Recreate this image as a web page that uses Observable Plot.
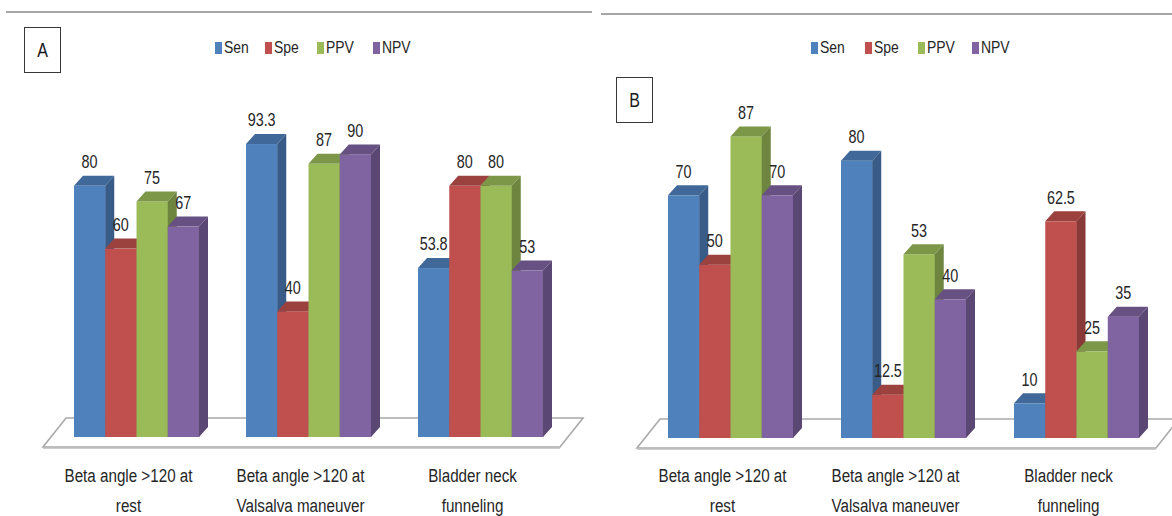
<!DOCTYPE html>
<html><head><meta charset="utf-8">
<script src="https://cdn.jsdelivr.net/npm/d3@7"></script>
<script src="https://cdn.jsdelivr.net/npm/@observablehq/plot@0.6"></script>
<style>
body{margin:0;background:#fff;}
#wrap{position:relative;width:1172px;height:516px;overflow:hidden;background:#fff;font-family:"Liberation Sans Narrow","Arial Narrow","Liberation Sans",sans-serif;}
.panel{position:absolute;top:0;height:516px;overflow:hidden;}
.panel svg{position:absolute;left:0;top:0;}
.topline{position:absolute;height:0;border-top:2px solid #a6a6a6;}
.box{position:absolute;border:1.6px solid #383838;box-sizing:border-box;display:flex;align-items:center;justify-content:center;font-size:20px;color:#1a1a1a;background:#fff;}
.box span{display:inline-block;transform:scaleX(0.8);}
.leg{position:absolute;top:40px;display:flex;align-items:center;font-size:17px;color:#262626;white-space:nowrap;line-height:16px;}
.leg .t{display:inline-block;transform:scaleX(0.82);transform-origin:left center;}
.sw{display:inline-block;width:7px;height:12px;margin-right:2px;}
</style></head>
<body>
<div id="wrap">
  <div class="panel" id="pa" style="left:0;width:600px"></div>
  <div class="panel" id="pb" style="left:600px;width:572px"></div>
</div>
<script>
// ---- data ----
const categories = ["Beta angle >120 at\nrest", "Beta angle >120 at\nValsalva maneuver", "Bladder neck\nfunneling"];
const seriesNames = ["Sen", "Spe", "PPV", "NPV"];
const seriesColors = ["#4F81BD", "#C0504D", "#9BBB59", "#8064A2"];
// Panel A
const senA = [80, 93.3, 53.8];
const speA = [60, 40, 80];
const ppvA = [75, 87, 80];
const npvA = [67, 90, 53];
// Panel B
const senB = [70, 80, 10];
const speB = [50, 12.5, 62.5];
const ppvB = [87, 53, 25];
const npvB = [70, 40, 35];

const DX = 9, DY = 10; // bar depth
const SX = 0.8;        // horizontal text compression (narrow face)
const FONT = '"Liberation Sans Narrow","Arial Narrow","Liberation Sans",sans-serif';

function buildPanel(el, opt) {
  const rows = [];
  seriesNames.forEach((s, si) => opt.values[si].forEach((v, ci) => rows.push({category: categories[ci], series: s, value: v})));
  const sIdx = s => seriesNames.indexOf(s), cIdx = c => categories.indexOf(c);

  const floor = (index, scales) => {
    const bw = scales.x.bandwidth();
    const xa = scales.x(categories[0]) - 31;
    const xb = scales.x(categories[categories.length - 1]) + bw + 17;
    const yb = scales.y(0);
    const yF = yb + 10, yK = yb - 19, sh = 23;
    const g = d3.create("svg:g");
    g.append("polygon")
      .attr("points", [[xa, yF], [xb, yF], [xb + sh, yK], [xa + sh, yK]].join(" "))
      .attr("fill", "#fff").attr("stroke", "#a9a9a9").attr("stroke-width", 1.6);
    g.append("line").attr("x1", xa).attr("x2", xb).attr("y1", yF + 1).attr("y2", yF + 1)
      .attr("stroke", "#bdbdbd").attr("stroke-width", 1.5);
    return g.node();
  };

  const bars3d = Plot.barY(rows, {
    x: "category", y: "value", fill: "series",
    render(index, scales) {
      const bw = scales.x.bandwidth(), sub = bw / seriesNames.length;
      const g = d3.create("svg:g");
      const order = Array.from(index).sort((a, b) =>
        cIdx(rows[a].category) - cIdx(rows[b].category) || sIdx(rows[a].series) - sIdx(rows[b].series));
      for (const i of order) {
        const d = rows[i];
        const x0 = scales.x(d.category) + sIdx(d.series) * sub, x1 = x0 + sub;
        const yt = scales.y(d.value), yb = scales.y(0);
        const c = d3.color(scales.color(d.series));
        g.append("rect").attr("x", x0).attr("y", yt).attr("width", sub + 0.3).attr("height", yb - yt).attr("fill", c.formatHex());
        g.append("polygon").attr("points", [[x0, yt], [x1, yt], [x1 + DX, yt - DY], [x0 + DX, yt - DY]].join(" "))
          .attr("fill", c.darker(0.6).formatHex());
        g.append("polygon").attr("points", [[x1, yt], [x1 + DX, yt - DY], [x1 + DX, yb - DY], [x1, yb]].join(" "))
          .attr("fill", c.darker(0.95).formatHex());
      }
      return g.node();
    }
  });

  const valueLabels = Plot.text(rows, {
    x: "category", y: "value", text: d => String(d.value),
    render(index, scales) {
      const bw = scales.x.bandwidth(), sub = bw / seriesNames.length;
      const g = d3.create("svg:g").attr("font-size", 18).attr("fill", "#262626").attr("text-anchor", "middle");
      for (const i of index) {
        const d = rows[i];
        const xc = scales.x(d.category) + (sIdx(d.series) + 0.5) * sub;
        g.append("text").attr("transform", `translate(${xc},${scales.y(d.value) - 24}) scale(${SX},1)`)
          .attr("dy", "0.35em").text(String(d.value));
      }
      return g.node();
    }
  });

  const catLabels = Plot.text(categories, {
    x: d => d, text: d => d, frameAnchor: "bottom",
    render(index, scales, values, dims) {
      const bw = scales.x.bandwidth();
      const y0 = dims.height - dims.marginBottom;
      const g = d3.create("svg:g").attr("font-size", 19).attr("fill", "#262626").attr("text-anchor", "middle");
      for (const i of index) {
        const c = categories[i];
        const xc = scales.x(c) + bw / 2 - 8;
        const t = g.append("text").attr("transform", `translate(${xc},${y0 + 45}) scale(${SX},1)`);
        c.split("\n").forEach((ln, k) => t.append("tspan").attr("x", 0).attr("y", k * 30).text(ln));
      }
      return g.node();
    }
  });

  const svg = Plot.plot({
    width: opt.width, height: 516,
    marginTop: 0, marginBottom: 79, marginLeft: 0, marginRight: 0,
    x: {domain: categories, range: opt.xRange, paddingInner: 0.275, paddingOuter: 0, axis: null},
    y: {domain: [0, opt.yMax], range: opt.yRange, axis: null},
    color: {domain: seriesNames, range: seriesColors},
    style: {fontFamily: FONT, background: "transparent", overflow: "visible"},
    marks: [floor, bars3d, valueLabels, catLabels]
  });
  el.appendChild(svg);

  // top rule
  const tl = document.createElement("div");
  tl.className = "topline";
  Object.assign(tl.style, opt.line);
  el.appendChild(tl);

  // panel letter box
  const bx = document.createElement("div");
  bx.className = "box";
  Object.assign(bx.style, opt.box);
  const bs = document.createElement("span");
  bs.textContent = opt.letter;
  bx.appendChild(bs);
  el.appendChild(bx);

  // legend
  seriesNames.forEach((s, i) => {
    const it = document.createElement("div");
    it.className = "leg";
    it.style.left = opt.legendX[i] + "px";
    const sw = document.createElement("span");
    sw.className = "sw";
    sw.style.background = seriesColors[i];
    it.appendChild(sw);
    const tx = document.createElement("span");
    tx.className = "t";
    tx.textContent = s;
    it.appendChild(tx);
    el.appendChild(it);
  });
}

buildPanel(document.getElementById("pa"), {
  width: 600, values: [senA, speA, ppvA, npvA], yMax: 100,
  xRange: [73, 543], yRange: [437, 123],
  line: {left: "6px", width: "586px", top: "11px"},
  box: {left: "24px", top: "27px", width: "37px", height: "46px"},
  letter: "A", legendX: [215, 265, 317, 373]
});
buildPanel(document.getElementById("pb"), {
  width: 572, values: [senB, speB, ppvB, npvB], yMax: 90,
  xRange: [67, 540], yRange: [438, 126],
  line: {left: "1px", width: "571px", top: "13px"},
  box: {left: "16px", top: "77px", width: "37px", height: "46px"},
  letter: "B", legendX: [211, 265, 318, 372]
});
</script>
</body></html>
